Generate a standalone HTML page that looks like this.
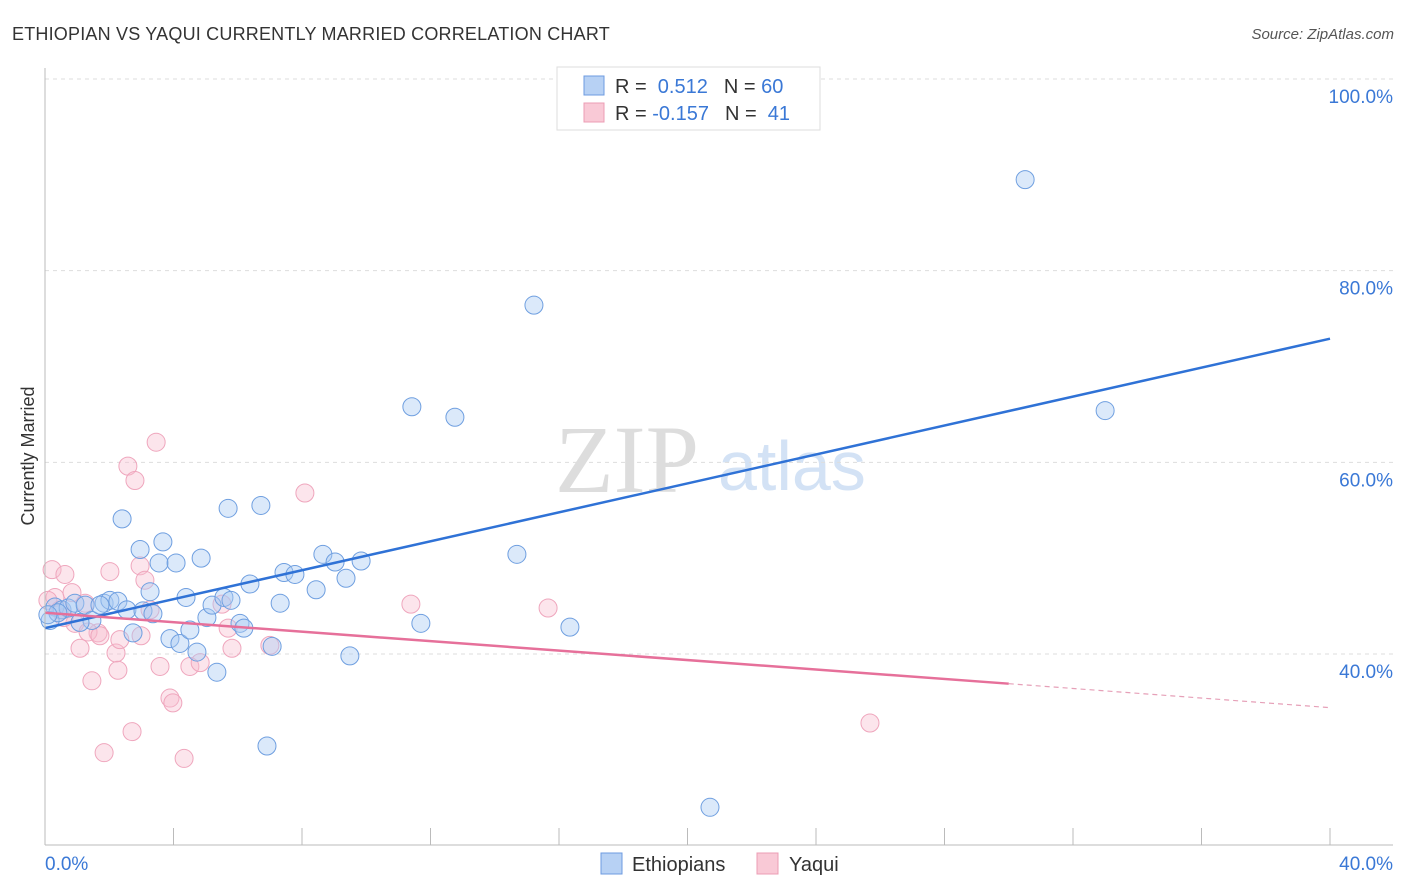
<!DOCTYPE html>
<html><head><meta charset="utf-8"><style>
body{margin:0;background:#fff;font-family:"Liberation Sans",sans-serif}
</style></head><body>
<svg id="c" width="1406" height="892" xmlns="http://www.w3.org/2000/svg" style="position:absolute;left:0;top:0">
<text x="12" y="40" font-size="18" fill="#333" letter-spacing="0.2">ETHIOPIAN VS YAQUI CURRENTLY MARRIED CORRELATION CHART</text>
<text x="1394" y="39" font-size="15" fill="#555" text-anchor="end" font-style="italic">Source: ZipAtlas.com</text>
<text x="34" y="456" font-size="18" fill="#333" text-anchor="middle" transform="rotate(-90 34 456)">Currently Married</text>
<text x="555" y="492" font-size="96" fill="#ddd" font-family="Liberation Serif,serif">ZIP</text>
<text x="718" y="490" font-size="70" fill="#d3e2f5">atlas</text>
<g id="grid"></g><g id="pts"></g><g id="lines"></g>
<line x1="45" y1="68" x2="45" y2="845" stroke="#bbb"/>
<line x1="45" y1="845" x2="1393" y2="845" stroke="#bbb"/>
<text x="45" y="870" font-size="19" fill="#3a78d6">0.0%</text>
<text x="1393" y="870" font-size="19" fill="#3a78d6" text-anchor="end">40.0%</text>
<g>
<rect x="557" y="67" width="263" height="63" fill="#fff" stroke="#ddd"/>
<rect x="584" y="76" width="20" height="19" fill="#b7d1f4" stroke="#6d9be0"/>
<rect x="584" y="103" width="20" height="19" fill="#f9c9d6" stroke="#ec9db4"/>
<text x="615" y="93" font-size="20" fill="#333">R = <tspan fill="#3a78d6">&#160;0.512</tspan><tspan dx="16">N = </tspan><tspan fill="#3a78d6">60</tspan></text>
<text x="615" y="120" font-size="20" fill="#333">R = <tspan fill="#3a78d6">-0.157</tspan><tspan dx="16">N = </tspan><tspan fill="#3a78d6">&#160;41</tspan></text>
</g>
<g>
<rect x="601" y="853" width="21" height="21" fill="#b7d1f4" stroke="#6d9be0"/>
<text x="632" y="871" font-size="20" fill="#333">Ethiopians</text>
<rect x="757" y="853" width="21" height="21" fill="#f9c9d6" stroke="#ec9db4"/>
<text x="789" y="871" font-size="20" fill="#333">Yaqui</text>
</g>
</svg>
<script>
const yTicks=[100,80,60,40];
const xTickVals=[0,4,8,12,16,20,24,28,32,36,40];
const blueX=[0.31,0.53,0.72,0.93,1.25,1.46,1.84,2.02,2.27,2.40,2.55,2.74,2.96,3.05,3.27,3.36,3.55,3.67,3.89,4.08,4.20,4.39,4.51,4.73,4.86,5.04,5.20,5.35,5.57,5.70,5.79,6.07,6.19,6.38,6.72,6.91,7.07,7.32,7.44,7.78,8.44,8.65,9.03,9.37,9.49,9.84,11.42,11.70,12.76,14.69,15.22,16.34,20.70,30.51,33.00,0.16,0.40,0.09,1.71,1.09];
const blueY=[44.9,44.6,44.8,45.3,45.1,43.5,45.3,45.6,45.5,54.1,44.6,42.2,50.9,44.5,46.5,44.2,49.5,51.7,41.6,49.5,41.1,45.9,42.5,40.2,50.0,43.8,45.1,38.1,45.9,55.2,45.6,43.2,42.7,47.3,55.5,30.4,40.8,45.3,48.5,48.3,46.7,50.4,49.6,47.9,39.8,49.7,65.8,43.2,64.7,50.4,76.4,42.8,24.0,89.5,65.4,43.5,44.3,44.1,45.1,43.3];
const pinkX=[0.22,0.31,0.62,0.84,1.09,1.25,1.46,1.65,1.84,2.02,2.21,2.27,2.58,2.71,2.80,2.96,2.99,3.11,3.27,3.46,3.58,3.89,3.98,4.33,4.51,4.83,5.51,5.70,5.82,7.00,8.09,11.39,15.66,25.68,0.47,0.93,1.34,1.71,0.09,2.33,0.59];
const pinkY=[48.8,45.9,48.3,46.4,40.6,45.3,37.2,42.2,29.7,48.6,40.1,38.3,59.6,31.9,58.1,49.2,41.9,47.7,44.6,62.1,38.7,35.4,34.9,29.1,38.7,39.1,45.2,42.7,40.6,40.9,56.8,45.2,44.8,32.8,44.6,43.2,42.3,41.9,45.6,41.5,43.8];
const blueTrend=[[0,42.7],[40,72.9]];
const pinkTrend=[[0,44.3],[30,36.9],[40,34.4]];
const X=v=>45+v/40*1285, Y=v=>79+(100-v)*9.583;
const NS="http://www.w3.org/2000/svg";
function mk(t,a,p){const e=document.createElementNS(NS,t);for(const k in a)e.setAttribute(k,a[k]);p.appendChild(e);return e;}
const grid=document.getElementById('grid');
yTicks.forEach(t=>{
 const l=mk('line',{x1:45,x2:1393,y1:Y(t),y2:Y(t),stroke:'#ddd','stroke-dasharray':'4,4'},grid);
 
 
 const tx=mk('text',{x:1393,y:Y(t)+24,'font-size':19,fill:'#3a78d6','text-anchor':'end'},grid);
 tx.textContent=t.toFixed(1)+'%';
 
 
});
xTickVals.forEach(t=>{
 const l=mk('line',{x1:X(t),x2:X(t),y1:828,y2:845,stroke:'#bbb'},grid);
 
 
});
const pts=document.getElementById('pts');
pinkX.forEach((x,i)=>{
 const c=mk('circle',{cx:X(x),cy:Y(pinkY[i]),r:9,fill:'rgba(248,190,208,0.4)',stroke:'#efa6bd','stroke-width':1},pts);
 
 
});
blueX.forEach((x,i)=>{
 const c=mk('circle',{cx:X(x),cy:Y(blueY[i]),r:9,fill:'rgba(170,202,242,0.42)',stroke:'#6f9fe0','stroke-width':1},pts);
 
 
});
const lines=document.getElementById('lines');
const bl=mk('line',{x1:X(blueTrend[0][0]),y1:Y(blueTrend[0][1]),x2:X(blueTrend[1][0]),y2:Y(blueTrend[1][1]),stroke:'#2f72d6','stroke-width':2.5},lines);


const pl=mk('line',{x1:X(pinkTrend[0][0]),y1:Y(pinkTrend[0][1]),x2:X(pinkTrend[1][0]),y2:Y(pinkTrend[1][1]),stroke:'#e6709a','stroke-width':2.5},lines);


const pd=mk('line',{x1:X(pinkTrend[1][0]),y1:Y(pinkTrend[1][1]),x2:X(pinkTrend[2][0]),y2:Y(pinkTrend[2][1]),stroke:'#e6a0b8','stroke-width':1.2,'stroke-dasharray':'5,4'},lines);


</script>
</body></html>
